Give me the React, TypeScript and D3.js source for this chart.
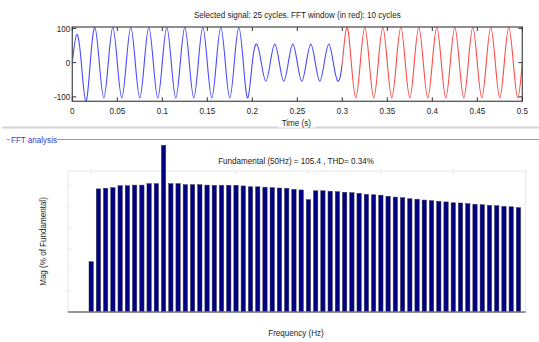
import React, { useEffect, useRef } from "react";
import * as d3 from "d3";

// signal: peak value of every half cycle (50 Hz, 25 cycles)
const halfCyclePeaks = [
  82, -113, 103, -103, 103, -103, 103, -103, 103, -103,
  103, -103, 103, -103, 103, -103, 103, -103, 103, -103,
  54, -54, 54, -54, 54, -54, 54, -54, 54, -54,
  103, -103, 103, -103, 103, -103, 103, -103, 103, -103,
  103, -103, 103, -103, 103, -103, 103, -103, 103, -103,
];
const halfCycle = 0.01;
const fftWindow = [0.3, 0.5];
const timeTicks = [0, 0.05, 0.1, 0.15, 0.2, 0.25, 0.3, 0.35, 0.4, 0.45, 0.5];
const signalTicks = [-100, 0, 100];

// FFT bars, 5 Hz resolution from 0 Hz
const freqStep = 5;
const fftMag = [
  0.0239, 0.0585, 0.0588, 0.0591, 0.06, 0.06, 0.0603, 0.0603, 0.061, 0.061,
  0.0792, 0.061, 0.061, 0.0605, 0.0605, 0.0605, 0.0603, 0.0602, 0.0602, 0.0602,
  0.0602, 0.0599, 0.0595, 0.0595, 0.0593, 0.0591, 0.0589, 0.0588, 0.0583, 0.058,
  0.0534, 0.0576, 0.0576, 0.0574, 0.0572, 0.0569, 0.0567, 0.0564, 0.0559, 0.0557,
  0.0555, 0.055, 0.0546, 0.0543, 0.0538, 0.0536, 0.0532, 0.0529, 0.0526, 0.0523,
  0.0519, 0.0518, 0.0515, 0.0512, 0.051, 0.0507, 0.0505, 0.0502, 0.05, 0.0496,
];
const freqTicks = [0, 50, 100, 150, 200, 250, 300];
const magTicks = [0.01, 0.02, 0.03, 0.04, 0.05, 0.06];

const FONT = "'Liberation Sans', Arial, sans-serif";

export default function App() {
  const ref = useRef<SVGSVGElement>(null);

  useEffect(() => {
    const svg = d3.select(ref.current);
    svg.selectAll("*").remove();

    // narrow-looking text like the matlab gui
    const label = (sel: any, x: number, y: number, s: string, anchor = "middle", rot = 0) =>
      sel.append("text")
        .attr("transform", `translate(${x},${y}) rotate(${rot}) scale(0.85,1)`)
        .attr("text-anchor", anchor)
        .text(s);

    // ---------- top: signal ----------
    const t = { left: 72.3, right: 522.3, top: 27, bottom: 101.3 };
    const x = d3.scaleLinear().domain([0, 0.5]).range([t.left, t.right]);
    const y = d3.scaleLinear().domain([-113, 104]).range([t.bottom, t.top]);

    const pts: [number, number][] = [[0, 0]];
    halfCyclePeaks.forEach((p, i) => {
      pts.push([i * halfCycle + halfCycle / 2, p]);
      pts.push([(i + 1) * halfCycle, 0]);
    });
    const line = d3.line<[number, number]>()
      .x(d => x(d[0]))
      .y(d => y(d[1]))
      .curve(d3.curveNatural);

    const defs = svg.append("defs");
    defs.append("clipPath").attr("id", "clipBlue").append("rect")
      .attr("x", t.left - 2).attr("y", 0)
      .attr("width", x(fftWindow[0]) - t.left + 2).attr("height", 120);
    defs.append("clipPath").attr("id", "clipRed").append("rect")
      .attr("x", x(fftWindow[0])).attr("y", 0)
      .attr("width", x(fftWindow[1]) - x(fftWindow[0])).attr("height", 120);

    svg.append("path").attr("d", line(pts)).attr("fill", "none")
      .attr("stroke", "#4a4aff").attr("stroke-width", 1.1).attr("clip-path", "url(#clipBlue)");
    svg.append("path").attr("d", line(pts)).attr("fill", "none")
      .attr("stroke", "#ff4a4a").attr("stroke-width", 1.1).attr("clip-path", "url(#clipRed)");

    const g = svg.append("g");
    g.append("rect").attr("x", t.left).attr("y", t.top)
      .attr("width", t.right - t.left).attr("height", t.bottom - t.top)
      .attr("fill", "none").attr("stroke", "#555").attr("stroke-width", 1.3);

    timeTicks.forEach(v => {
      g.append("line").attr("x1", x(v)).attr("x2", x(v)).attr("y1", t.bottom).attr("y2", t.bottom - 4)
        .attr("stroke", "#333");
      g.append("line").attr("x1", x(v)).attr("x2", x(v)).attr("y1", t.top).attr("y2", t.top + 4)
        .attr("stroke", "#333");
      label(g, x(v), 114, String(v));
    });
    signalTicks.forEach(v => {
      g.append("line").attr("x1", t.left).attr("x2", t.left + 4).attr("y1", y(v)).attr("y2", y(v))
        .attr("stroke", "#333");
      g.append("line").attr("x1", t.right).attr("x2", t.right - 4).attr("y1", y(v)).attr("y2", y(v))
        .attr("stroke", "#333");
      label(g, t.left - 2, y(v) + 3.3, String(v), "end");
    });
    label(g, (t.left + t.right) / 2, 18, "Selected signal: 25 cycles. FFT window (in red): 10 cycles");

    // separator + panel
    svg.append("rect").attr("x", 2).attr("y", 126.5).attr("width", 537).attr("height", 2).attr("fill", "#d4d4d4");
    svg.append("rect").attr("x", 278).attr("y", 119).attr("width", 38).attr("height", 8.5).attr("fill", "#fff");
    label(svg, (t.left + t.right) / 2 - 1, 126, "Time (s)");
    svg.append("line").attr("x1", 7).attr("x2", 10).attr("y1", 139.5).attr("y2", 139.5).attr("stroke", "#999");
    svg.append("line").attr("x1", 57).attr("x2", 539).attr("y1", 139.5).attr("y2", 139.5).attr("stroke", "#999");
    label(svg, 11, 142.5, "FFT analysis", "start").attr("fill", "#3a3acc");

    // ---------- bottom: FFT ----------
    const b = { left: 68, right: 525.7, top: 171, bottom: 312 };
    const fx = d3.scaleLinear().domain([-16, 300]).range([b.left, b.right]);
    const fy = d3.scaleLinear().domain([0, 0.067]).range([b.bottom, b.top]);
    const bw = fx(3) - fx(0);

    const gb = svg.append("g");
    gb.append("rect").attr("x", b.left).attr("y", b.top)
      .attr("width", b.right - b.left).attr("height", b.bottom - b.top)
      .attr("fill", "none").attr("stroke", "#ececec").attr("stroke-width", 1.2);
    freqTicks.forEach(v => {
      gb.append("line").attr("x1", fx(v)).attr("x2", fx(v)).attr("y1", b.top).attr("y2", b.top + 3)
        .attr("stroke", "#e4e4e4");
    });
    magTicks.forEach(v => {
      gb.append("line").attr("x1", b.left).attr("x2", b.left + 3).attr("y1", fy(v)).attr("y2", fy(v))
        .attr("stroke", "#e4e4e4");
    });

    gb.selectAll("rect.bar").data(fftMag).join("rect").attr("class", "bar")
      .attr("x", (_, i) => fx(i * freqStep) - bw / 2)
      .attr("y", d => fy(d))
      .attr("width", bw)
      .attr("height", d => fy(0) - fy(d))
      .attr("fill", "#000080")
      .attr("stroke", "#3a3a5a")
      .attr("stroke-width", 0.5);

    gb.append("line").attr("x1", b.left).attr("x2", b.right).attr("y1", b.bottom).attr("y2", b.bottom)
      .attr("stroke", "#777").attr("stroke-width", 1.5);

    label(gb, 296, 164, "Fundamental (50Hz) = 105.4 , THD= 0.34%");
    label(gb, 296, 336, "Frequency (Hz)");
    label(gb, 45.5, (b.top + b.bottom) / 2, "Mag (% of Fundamental)", "middle", -90);
  }, []);

  return (
    <svg ref={ref} width={539} height={342}
      style={{ position: "absolute", left: 0, top: 0, background: "#fff", fontFamily: FONT, fontSize: 9.5, fill: "#222" }} />
  );
}
